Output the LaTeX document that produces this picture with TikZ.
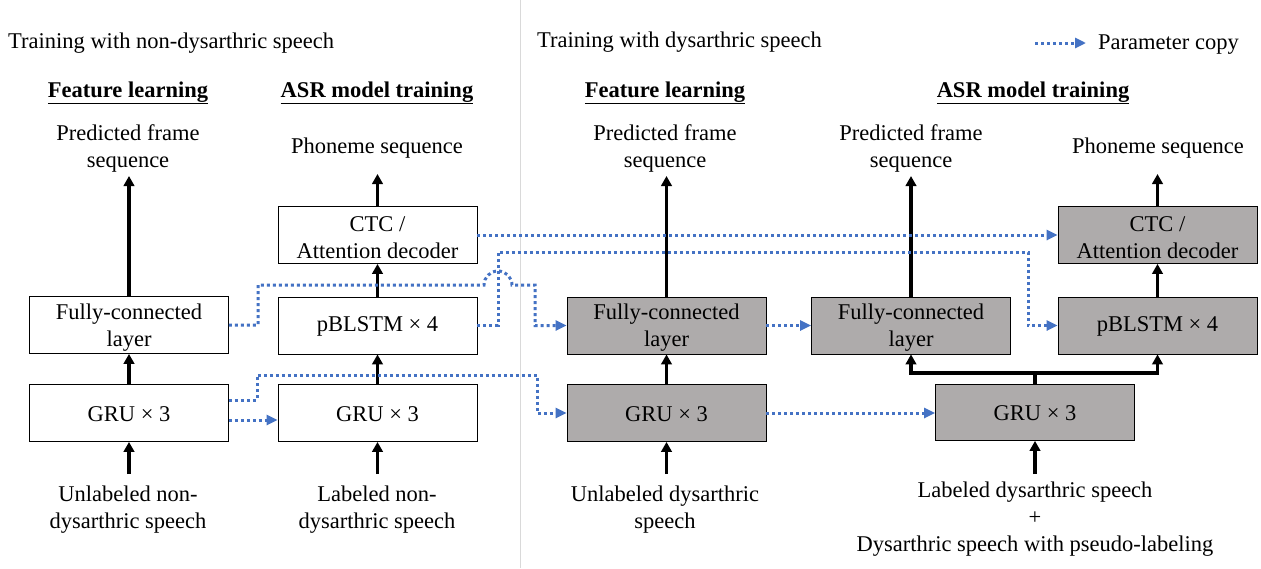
\documentclass[tikz,border=0pt]{standalone}
\usepackage{fontspec}
\setmainfont{Liberation Serif}
\usetikzlibrary{arrows.meta}
\definecolor{pblue}{RGB}{68,114,196}
\definecolor{boxgray}{RGB}{174,171,171}
\definecolor{divgray}{RGB}{217,217,217}
\begin{document}
\begin{tikzpicture}[x=1pt,y=-1pt,
  every node/.style={font=\fontsize{22.5}{27}\selectfont},
  box/.style={draw=black, line width=0.8pt, minimum width=199pt, minimum height=57pt, inner sep=0pt, fill=white},
  gbox/.style={box, fill=boxgray},
  txt/.style={align=center, inner sep=0pt},
  blab/.style={txt, yshift=-2.5pt},
  slab/.style={txt, yshift=-1pt},
  hdr/.style={inner sep=0pt, font=\fontsize{22.5}{27}\selectfont\bfseries},
  up/.style={line width=3.6pt, -{Triangle[length=10pt,width=10.5pt]}},
  pc/.style={pblue, line width=3pt, dash pattern=on 3pt off 3pt, -{Triangle[length=11pt,width=10pt]}}
]
\fill[white] (0,0) rectangle (1261,568);
\useasboundingbox (0,0) rectangle (1261,568);
\draw[divgray, line width=1pt] (520,0) -- (520,568);

% headers
\node[anchor=west, inner sep=0pt] (t1) at (8,43) {Training with non-dysarthric speech};
\node[anchor=west, inner sep=0pt] (t2) at (537,42) {Training with dysarthric speech};
\draw[pc] (1035,43) coordinate (lg1) -- (1086,43) coordinate (lg2);
\node[anchor=west, inner sep=0pt] (lgt) at (1098,45) {Parameter copy};

\node[hdr] (h1) at (128,93) {\underline{Feature learning}};
\node[hdr] (h2) at (377,93) {\underline{ASR model training}};
\node[hdr] (h3) at (665,93) {\underline{Feature learning}};
\node[hdr] (h4) at (1033,93) {\underline{ASR model training}};

% top texts
\node[txt] (pf1) at (128,148.5) {Predicted frame\\sequence};
\node[txt] (ps2) at (377,148) {Phoneme sequence};
\node[txt] (pf3) at (665,148.5) {Predicted frame\\sequence};
\node[txt] (pf4) at (911,148.5) {Predicted frame\\sequence};
\node[txt] (ps4) at (1158,148) {Phoneme sequence};

% boxes
\node[box, label={[blab]center:{Fully-connected\\layer}}] (fc1) at (129,325) {};
\node[box, label={[slab]center:{GRU × 3}}] (gru1) at (129,413) {};
\node[box, label={[blab]center:{CTC /\\Attention decoder}}] (ctc2) at (377.5,235) {};
\node[box, label={[slab]center:{pBLSTM × 4}}] (pb2) at (377.5,325.5) {};
\node[box, label={[slab]center:{GRU × 3}}] (gru2) at (377.5,413) {};
\node[gbox, label={[blab]center:{Fully-connected\\layer}}] (fc3) at (666.5,325.5) {};
\node[gbox, label={[slab]center:{GRU × 3}}] (gru3) at (666.5,413) {};
\node[gbox, label={[blab]center:{Fully-connected\\layer}}] (fc4) at (911,325.5) {};
\node[gbox, minimum height=56pt, label={[slab]center:{GRU × 3}}] (gru4) at (1035,412.5) {};
\node[gbox, label={[slab]center:{pBLSTM × 4}}] (pb4) at (1157.5,325.5) {};
\node[gbox, label={[blab]center:{CTC /\\Attention decoder}}] (ctc4) at (1157.5,235) {};

% bottom texts
\node[txt] (in1) at (128,509.5) {Unlabeled non-\\dysarthric speech};
\node[txt] (in2) at (377,509.5) {Labeled non-\\dysarthric speech};
\node[txt] (in3) at (665,510) {Unlabeled dysarthric\\speech};
\node[txt] (in4) at (1035,519.5) {Labeled dysarthric speech\\+\\Dysarthric speech with pseudo-labeling};

% black arrows
\draw[up] (fc1.north) -- (fc1.north |- 0,176);
\draw[up] (gru1.north) -- (fc1.south);
\draw[up] (129,474) -- (gru1.south);
\draw[up] (ctc2.north) -- (ctc2.north |- 0,174);
\draw[up] (pb2.north) -- (ctc2.south);
\draw[up] (gru2.north) -- (pb2.south);
\draw[up] (377.5,474) -- (gru2.south);
\draw[up] (fc3.north) -- (fc3.north |- 0,176);
\draw[up] (gru3.north) -- (fc3.south);
\draw[up] (666.5,474) -- (gru3.south);
\draw[up] (fc4.north) -- (fc4.north |- 0,176);
\draw[up] (ctc4.north) -- (ctc4.north |- 0,174);
\draw[up] (pb4.north) -- (ctc4.south);
\draw[up] (1035,474) -- (gru4.south);
\draw[up] (gru4.north) -- (1035,373) -| (fc4.south);
\draw[up] (gru4.north) -- (1035,373) -| (pb4.south);

% parameter copy connectors
\draw[pc] (fc1.east) -- (258,325) -- (258,285) -- (484,285) arc[start angle=180, end angle=360, radius=14] -- (535,285) -- (535,325.5) -- (fc3.west);
\draw[pc] (pb2.east) -- (498,325.5) -- (498,252) -- (1028,252) -- (1028,325.5) -- (pb4.west);
\draw[pc] (ctc2.east) -- (ctc4.west);
\draw[pc] ([yshift=13pt]gru1.east) -- (257,400) -- (257,375) -- (537,375) -- (537,413) -- (gru3.west);
\draw[pc] ([yshift=-7pt]gru1.east) -- ([yshift=-7pt]gru2.west);
\draw[pc] (gru3.east) -- (gru3.east -| gru4.west);
\draw[pc] (fc3.east) -- (fc4.west);
\end{tikzpicture}
\end{document}
